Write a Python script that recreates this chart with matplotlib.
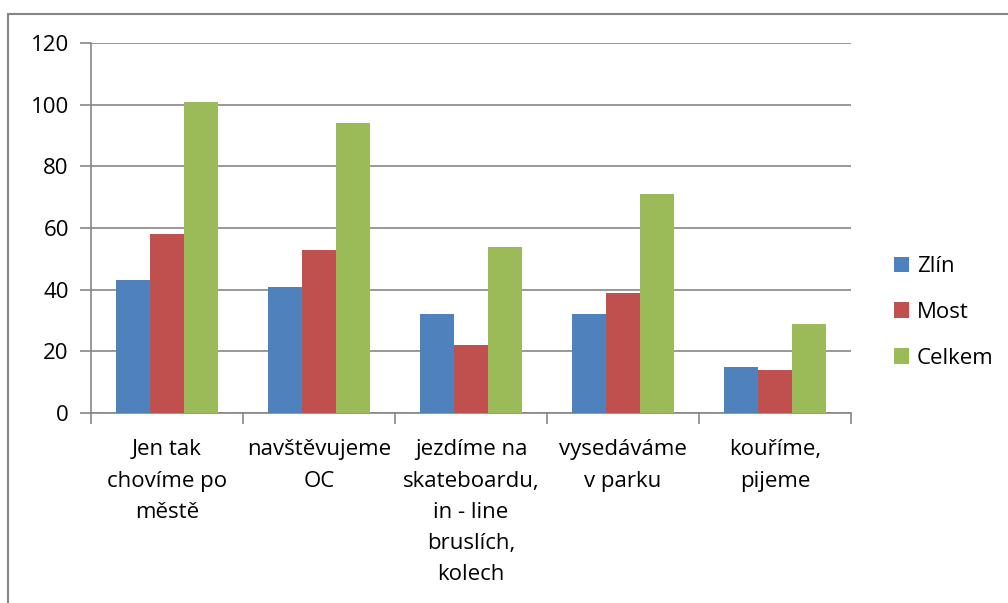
import matplotlib
matplotlib.use("Agg")
import matplotlib.pyplot as plt
import numpy as np
from matplotlib.patches import Rectangle

categories = ["Jen tak\nchovíme po\nměstě", "navštěvujeme\nOC", "jezdíme na\nskateboardu,\nin - line\nbruslích,\nkolech",
              "vysedáváme\nv parku", "kouříme,\npijeme"]
series_names = ["Zlín", "Most", "Celkem"]
zlin = [43, 41, 32, 32, 15]
most = [58, 53, 22, 39, 14]
celkem = [101, 94, 54, 71, 29]
colors = ["#4F81BD", "#C0504D", "#9BBB59"]
yticks = [0, 20, 40, 60, 80, 100, 120]

plt.rcParams['font.family'] = ['Open Sans', 'DejaVu Sans']
W, H = 1008, 603
FS = 16
fig = plt.figure(figsize=(W/100, H/100), dpi=100)

# outer chart border (bottom and right edges lie outside the image)
fig.patches.append(Rectangle((8/W, -0.2), 1.2, 1.2 - 14/H, transform=fig.transFigure,
                             fill=False, edgecolor="#868686", linewidth=1.5))

left, right, top, bottom = 91, 851, 43, 413
ax = fig.add_axes([left/W, 1 - bottom/H, (right-left)/W, (bottom-top)/H])

n = len(categories)
bw = 1/4.5
x = np.arange(n)
for i, (vals, name) in enumerate(zip([zlin, most, celkem], series_names)):
    ax.bar(x - bw + i*bw, vals, width=bw, color=colors[i], label=name, zorder=3)

ax.set_xlim(-0.5, n - 0.5)
ax.set_ylim(0, 120)
ax.set_yticks(yticks)
ax.set_yticklabels([str(v) for v in yticks], fontsize=FS)
ax.yaxis.grid(True, color="#868686", linewidth=1.2, zorder=0)
ax.set_axisbelow(True)
for s in ["top", "right"]:
    ax.spines[s].set_visible(False)
ax.spines["left"].set_color("#868686")
ax.spines["bottom"].set_color("#868686")
ax.spines["left"].set_linewidth(1.2)
ax.spines["bottom"].set_linewidth(1.2)
ax.tick_params(axis="y", length=8, color="#868686", width=1.2, pad=8)

# x ticks at category boundaries, labels at centres
ax.set_xticks(np.arange(-0.5, n, 1.0))
ax.set_xticklabels([])
ax.tick_params(axis="x", length=8, color="#868686", width=1.2)
ax.set_xticks(x, minor=True)
ax.set_xticklabels(categories, minor=True, fontsize=FS, linespacing=1.64, va="top")
ax.tick_params(axis="x", which="minor", length=0, pad=19)

leg = fig.legend(loc="upper left", bbox_to_anchor=(874/W, 1 - 236/H), frameon=False,
                 fontsize=FS, handlelength=0.68, handleheight=0.68, labelspacing=1.12,
                 handletextpad=0.35)

fig.savefig("out.png", dpi=100)
